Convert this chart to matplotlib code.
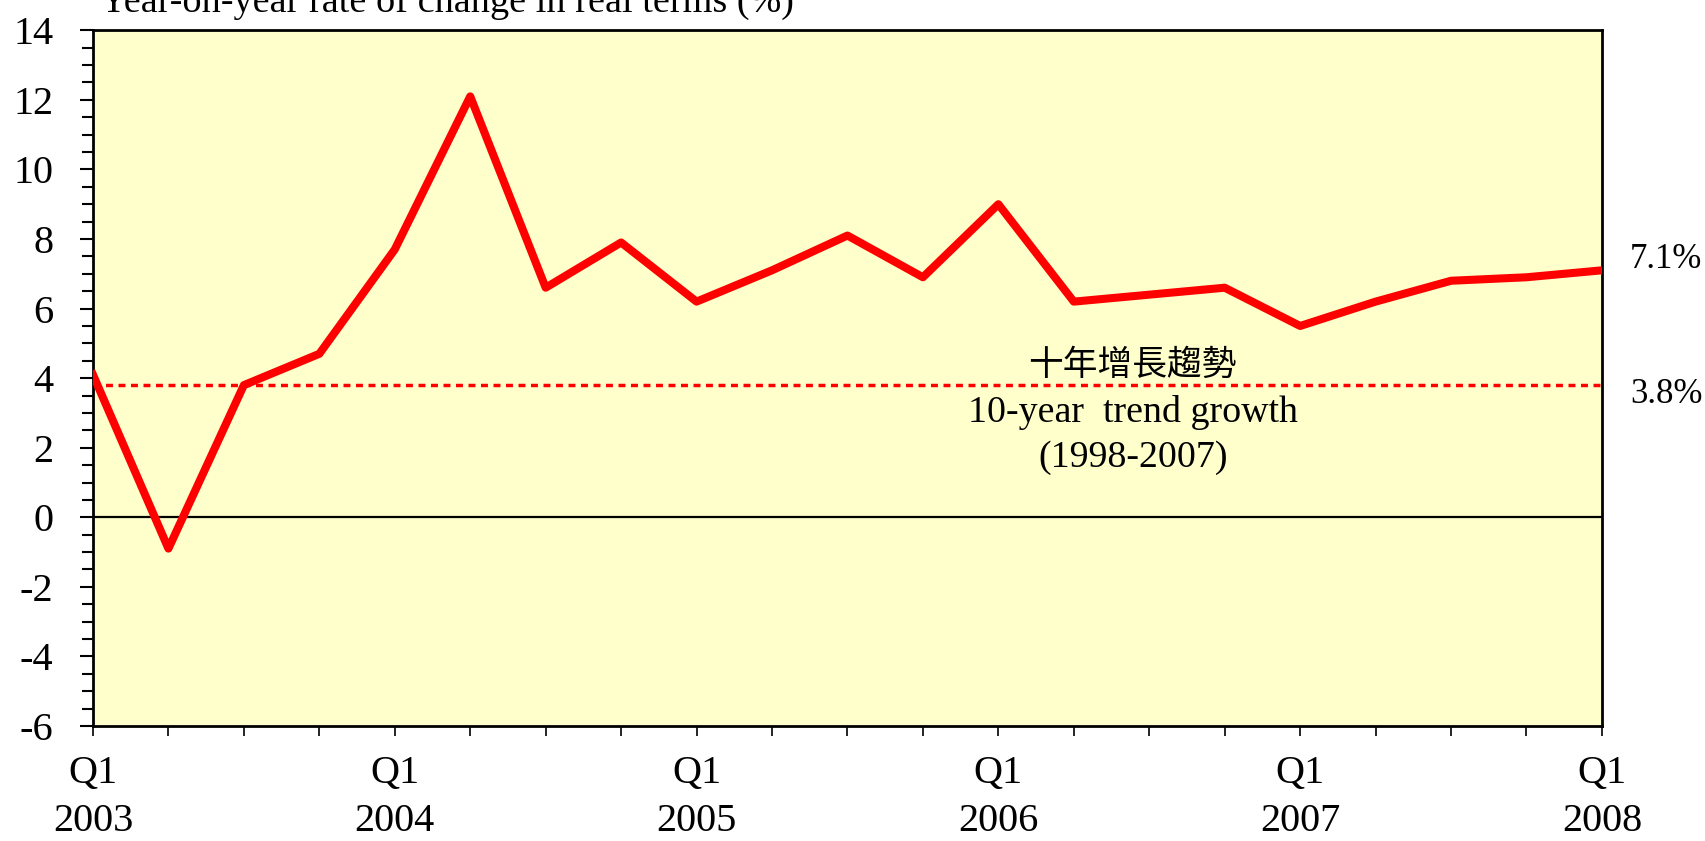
import matplotlib
matplotlib.use("Agg")
import matplotlib.pyplot as plt
from matplotlib.ticker import MultipleLocator
from matplotlib.transforms import blended_transform_factory

plt.rcParams['font.family'] = ['Liberation Serif', 'Noto Sans CJK TC', 'DejaVu Sans']
plt.rcParams['axes.unicode_minus'] = False

quarters = ['Q1\n2003', '', '', '', 'Q1\n2004', '', '', '', 'Q1\n2005', '', '', '',
            'Q1\n2006', '', '', '', 'Q1\n2007', '', '', '', 'Q1\n2008']
growth = [4.1, -0.9, 3.8, 4.7, 7.7, 12.1, 6.6, 7.9, 6.2, 7.1, 8.1, 6.9,
          9.0, 6.2, 6.4, 6.6, 5.5, 6.2, 6.8, 6.9, 7.1]
trend = 3.8
latest = 7.1

fig = plt.figure(figsize=(17.06, 8.41), dpi=100)
ax = fig.add_axes([0.0545, 0.1367, 0.8845, 0.8273])
ax.set_facecolor('#ffffcc')

x = list(range(len(growth)))
ax.plot(x, growth, color='red', lw=5.8, solid_joinstyle='round', zorder=3)
ax.axhline(trend, color='red', lw=2.5, dashes=(2, 1.6), zorder=2)
ax.axhline(0, color='black', lw=1.6, zorder=1)

ax.set_xlim(0, len(growth) - 1)
ax.set_ylim(-6, 14)
ax.set_xticks(x)
ax.set_xticklabels(quarters, fontsize=29, linespacing=1.38)
ax.yaxis.set_major_locator(MultipleLocator(2))
ax.yaxis.set_minor_locator(MultipleLocator(0.5))
ax.tick_params(axis='y', which='major', length=9.4, width=1.5, labelsize=29, pad=19)
ax.tick_params(axis='y', which='minor', length=8, width=1.5)
ax.tick_params(axis='x', which='major', length=7, width=1.2, pad=14)
for s in ax.spines.values():
    s.set_linewidth(2)

# title sits partly above the top edge, as in the original
fig.text(100 / 1706, 1 - 12 / 841, 'Year-on-year rate of change in real terms (%)',
         fontsize=27.5, va='baseline', ha='left')

tr = blended_transform_factory(fig.transFigure, ax.transData)
fig.text(0.998, latest + 0.3, '%.1f%%' % latest, transform=tr,
         fontsize=25, ha='right', va='center')
fig.text(0.998, trend - 0.26, '%.1f%%' % trend, transform=tr,
         fontsize=25, ha='right', va='center')

ax.text(0.689, 4.37, '十年增長趨勢', transform=ax.get_yaxis_transform(),
        fontsize=25, ha='center', va='center', family=['Noto Sans CJK TC'])
ax.text(0.689, 3.02, '10-year  trend growth', transform=ax.get_yaxis_transform(),
        fontsize=27.3, ha='center', va='center')
ax.text(0.689, 1.70, '(1998-2007)', transform=ax.get_yaxis_transform(),
        fontsize=27.3, ha='center', va='center')

fig.savefig('out.png', dpi=100)
